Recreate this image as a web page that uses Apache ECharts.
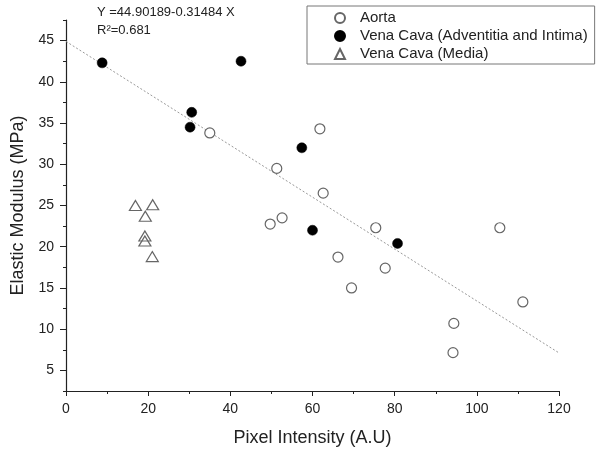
<!DOCTYPE html>
<html>
<head>
<meta charset="utf-8">
<script src="https://cdn.jsdelivr.net/npm/echarts@6/dist/echarts.min.js"></script>
<style>
html,body{margin:0;padding:0;background:#fff;}
#chart{width:601px;height:454px;}
</style>
</head>
<body>
<div id="chart"></div>
<script>
// ---- data ----
const seriesNames = ['Aorta', 'Vena Cava (Adventitia and Intima)', 'Vena Cava (Media)'];
const aortaX = [35.0, 51.3, 61.8, 62.6, 49.7, 52.6, 75.4, 66.2, 77.7, 69.5, 105.6, 111.2, 94.4, 94.2];
const aortaY = [33.8, 29.5, 34.3, 26.5, 22.75, 23.5, 22.3, 18.75, 17.4, 15.0, 22.3, 13.3, 10.7, 7.15];
const venaX = [8.8, 42.6, 30.6, 30.2, 57.4, 60.0, 80.7];
const venaY = [42.3, 42.5, 36.3, 34.5, 32.0, 22.0, 20.4];
const mediaX = [16.9, 21.1, 19.3, 19.2, 19.2, 21.0];
const mediaY = [25.0, 25.1, 23.7, 21.3, 20.7, 18.8];
const fitX = [0, 120];
const fitY = [44.90, 7.12];
const equationText = 'Y =44.90189-0.31484 X';
const r2Text = 'R\u00B2=0.681';
const xTicks = [0, 20, 40, 60, 80, 100, 120];
const yMajorTicks = [5, 10, 15, 20, 25, 30, 35, 40, 45];
const yMinorTicks = [2.5, 7.5, 12.5, 17.5, 22.5, 27.5, 32.5, 37.5, 42.5, 47.5];

const zip = (xs, ys) => xs.map((x, i) => [x, ys[i]]);
const font = 'Liberation Sans, Arial, sans-serif';

const chart = echarts.init(document.getElementById('chart'), null, {renderer: 'canvas'});
chart.setOption({
  backgroundColor: '#fff',
  animation: false,
  textStyle: {fontFamily: font},
  grid: {left: 66, right: 42, top: 20, bottom: 63},
  legend: {
    data: seriesNames,
    orient: 'vertical',
    left: 307, top: 6,
    padding: [3, 7, 1, 27],
    itemWidth: 10, itemHeight: 10, itemGap: 0,
    borderColor: '#777', borderWidth: 1,
    textStyle: {fontFamily: font, fontSize: 15, color: '#222', lineHeight: 18, padding: [0, 0, 0, 10]}
  },
  graphic: [
    {type: 'text', left: 97, top: 6, style: {text: equationText, font: '13px ' + font, fill: '#222'}},
    {type: 'text', left: 97, top: 24, style: {text: r2Text, font: '13px ' + font, fill: '#222'}}
  ],
  xAxis: {
    type: 'value', min: 0, max: 120, interval: 20,
    name: 'Pixel Intensity (A.U)', nameLocation: 'middle', nameGap: 38,
    nameTextStyle: {fontFamily: font, fontSize: 18, color: '#222'},
    axisLine: {show: true, lineStyle: {color: '#222', width: 1.2}},
    axisTick: {show: true, inside: false, length: 5, lineStyle: {color: '#222'}},
    minorTick: {show: true, splitNumber: 2, length: 3, lineStyle: {color: '#222'}},
    axisLabel: {fontFamily: font, fontSize: 14, color: '#222', margin: 11},
    splitLine: {show: false}
  },
  yAxis: [{
    type: 'value', min: 2.5, max: 47.5,
    name: 'Elastic Modulus (MPa)', nameLocation: 'middle', nameGap: 30,
    nameTextStyle: {fontFamily: font, fontSize: 18, color: '#222'},
    axisLine: {show: true, lineStyle: {color: '#222', width: 1.2}},
    axisTick: {show: true, length: 6, customValues: yMajorTicks, lineStyle: {color: '#222'}},
    axisLabel: {fontFamily: font, fontSize: 14, color: '#222', margin: 12, customValues: yMajorTicks},
    splitLine: {show: false}
  }, {
    type: 'value', min: 2.5, max: 47.5, position: 'left',
    axisLine: {show: false},
    axisTick: {show: true, length: 3, customValues: yMinorTicks, lineStyle: {color: '#222'}},
    axisLabel: {show: false, customValues: yMinorTicks},
    splitLine: {show: false}
  }],
  series: [
    {
      name: 'fit', type: 'line', data: zip(fitX, fitY), showSymbol: false, silent: true,
      lineStyle: {color: '#999', width: 1, type: [2, 2]}, z: 1
    },
    {
      name: seriesNames[0], type: 'scatter', data: zip(aortaX, aortaY),
      symbol: 'circle', symbolSize: 10,
      itemStyle: {color: '#fff', borderColor: '#666', borderWidth: 1.2, opacity: 1}, z: 3
    },
    {
      name: seriesNames[1], type: 'scatter', data: zip(venaX, venaY),
      symbol: 'circle', symbolSize: 10,
      itemStyle: {color: '#000', borderColor: '#000', borderWidth: 0.5, opacity: 1}, z: 3
    },
    {
      name: seriesNames[2], type: 'scatter', data: zip(mediaX, mediaY),
      symbol: 'triangle', symbolSize: [12, 10],
      itemStyle: {color: 'rgba(255,255,255,0)', borderColor: '#666', borderWidth: 1.2, opacity: 1}, z: 3
    }
  ]
});
</script>
</body>
</html>
